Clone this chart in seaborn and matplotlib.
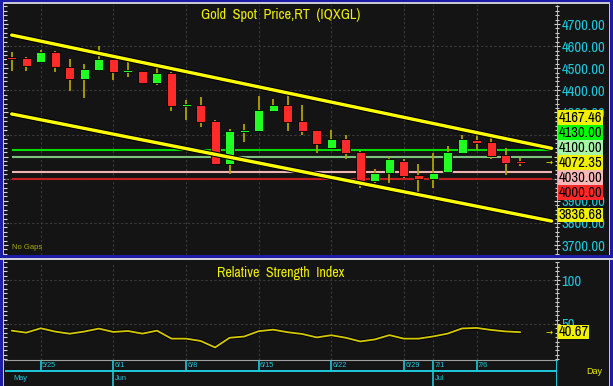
import os
import numpy as np
import pandas as pd
import matplotlib
matplotlib.use("Agg")
import matplotlib.pyplot as plt
import matplotlib.patheffects as pe
from matplotlib import font_manager
from matplotlib.font_manager import FontProperties
from matplotlib.patches import Rectangle
from matplotlib.ticker import MultipleLocator, FixedLocator, FormatStrFormatter
import seaborn as sns

# --- values (daily bars, weekdays only) ---
dates = pd.bdate_range("2026-05-21", "2026-07-09")
opens = [4548, 4547, 4528, 4572, 4507, 4452, 4492, 4543, 4484, 4487, 4432, 4477,
         4330, 4332, 4262, 4066, 4211, 4216, 4308, 4332, 4261, 4220, 4138, 4180,
         4122, 3990, 4024, 4080, 4017, 3999, 4030, 4118, 4176, 4167, 4106, 4080]
highs = [4575, 4549, 4582, 4579, 4543, 4519, 4600, 4545, 4537, 4488, 4507, 4483,
         4356, 4368, 4264, 4224, 4248, 4374, 4359, 4386, 4333, 4222, 4220, 4196,
         4124, 4045, 4100, 4088, 4066, 4118, 4148, 4196, 4205, 4183, 4138, 4092]
lows = [4489, 4489, 4526, 4481, 4398, 4364, 4489, 4447, 4462, 4427, 4424, 4308,
        4266, 4233, 4062, 4021, 4166, 4214, 4306, 4217, 4198, 4118, 4133, 4088,
        3957, 3981, 3982, 4002, 3941, 3957, 4028, 4116, 4130, 4088, 4017, 4057]
closes = [4544, 4510, 4572, 4504, 4452, 4498, 4543, 4483, 4490, 4432, 4477, 4329,
          4334, 4257, 4066, 4217, 4222, 4311, 4332, 4258, 4217, 4157, 4180, 4118,
          3990, 4027, 4089, 4012, 3999, 4027, 4122, 4178, 4162, 4103, 4072, 4072.35]
rsi = [42.4, 40.1, 45.1, 41.3, 38.9, 41.4, 44.7, 40.9, 42.0, 39.0, 42.4, 33.3,
       33.3, 30.7, 23.3, 34.3, 35.7, 41.8, 43.5, 40.6, 38.6, 34.7, 37.2, 34.3,
       30.1, 32.4, 37.3, 33.3, 33.3, 35.8, 39.0, 44.9, 45.5, 43.2, 41.5, 40.67]

level_values = [4130.00, 4100.00, 4030.00, 4000.00]
level_line_colors = ["#00dc00", "#7cc47c", "#f0b4b4", "#c41e1e"]
level_box_colors = ["#00ff00", "#a8f4a8", "#f8b8b8", "#ff2828"]

# trend channel: value at first bar, value at last bar
channel_upper = [4650.00, 4167.46]
channel_lower = [4293.00, 3836.68]

week_ticks = ["5/25", "6/1", "6/8", "6/15", "6/22", "6/29", "7/1", "7/6"]
month_ticks = ["May", "Jun", "Jul"]

df = pd.DataFrame({"date": dates, "open": opens, "high": highs,
                   "low": lows, "close": closes, "rsi": rsi})
df["idx"] = np.arange(len(df))
df["label"] = [f"{d.month}/{d.day}" for d in df["date"]]

BG = "#141414"
BLUE = "#1c1ca6"
CYAN = "#1ec8dc"
YELLOW = "#f0f000"
W, H = 613, 386

sns.set_theme(style="dark")
plt.rcParams["font.family"] = ["Liberation Sans", "DejaVu Sans"]

# a narrow face if one is installed, plain Liberation Sans otherwise
narrow_file = None
for path in sorted(font_manager.findSystemFonts()):
    base = os.path.basename(path).lower()
    if "narrow" in base and "bold" not in base and "italic" not in base:
        narrow_file = path
        break
fp = FontProperties(fname=narrow_file) if narrow_file else FontProperties(family="Liberation Sans")

fig = plt.figure(figsize=(W / 100, H / 100), dpi=100, facecolor=BG)
renderer = fig.canvas.get_renderer()


def fit_size(text, target_px, base=10):
    t = fig.text(0, 0, text, fontproperties=fp, fontsize=base)
    w = t.get_window_extent(renderer).width
    t.remove()
    return base * target_px / w


title_size = fit_size("Gold  Spot  Price,RT  (IQXGL)", 158)
rsi_title_size = fit_size("Relative  Strength  Index", 127)
value_size = fit_size("4700.00", 43)

ax = fig.add_axes([5 / W, 1 - 255 / H, 551.5 / W, 250 / H])
ax_rsi = fig.add_axes([5 / W, 1 - 360 / H, 551.5 / W, 98 / H], sharex=ax)
ax_date = fig.add_axes([5 / W, 0, 551.5 / W, 26 / H], sharex=ax)

x_end = 37.16
xlim = (-0.46, 37.5)

# --- price panel ---
ax.set_facecolor(BG)
ax.set_xlim(*xlim)
ax.set_ylim(3655, 4786)
for v in [4600, 4400, 4200, 4000, 3800]:
    ax.axhline(v, color="#3a3a3a", lw=0.8, ls=(0, (2, 2)), zorder=1)
week_idx = [int(df.loc[df["label"] == t, "idx"].iloc[0]) for t in week_ticks]
for xi in week_idx:
    ax.axvline(xi, color="#3a3a3a", lw=0.8, ls=(0, (2, 2)), zorder=1)
    ax_rsi.axvline(xi, color="#3a3a3a", lw=0.8, ls=(0, (2, 2)), zorder=1)

for v, c in zip(level_values, level_line_colors):
    ax.hlines(v, 0, x_end, color=c, lw=1.5, zorder=2)

body_lo = np.minimum(df["open"], df["close"])
body_h = (df["close"] - df["open"]).abs()
mid = body_lo + body_h / 2
body_h = np.maximum(body_h, 9)
body_lo = mid - body_h / 2
colors = np.where(df["close"] >= df["open"], "#22ff22", "#ff2a2a")
ax.vlines(df["idx"], df["low"], df["high"], color="#b0a400", lw=1.3, zorder=3)
ax.bar(df["idx"], body_h, bottom=body_lo, width=0.62, color=colors,
       edgecolor="#000000", linewidth=0.6, zorder=4)

n_last = len(df) - 1
for start, end in [channel_upper, channel_lower]:
    ys = [start, start + (end - start) * x_end / n_last]
    ax.plot([0, x_end], ys, color="#ffff00", lw=2.4, zorder=5,
            path_effects=[pe.Stroke(linewidth=4, foreground="black"), pe.Normal()])

ax.text(0.012, 0.015, "No Gaps", transform=ax.transAxes, color="#a8a800",
        fontsize=5.5, va="bottom", ha="left")
ax.text(0.5, 0.962, "Gold  Spot  Price,RT  (IQXGL)", transform=ax.transAxes,
        color=YELLOW, fontproperties=fp, fontsize=title_size, ha="center", va="center")

for a in (ax, ax_rsi):
    a.yaxis.tick_right()
    a.tick_params(axis="y", which="both", left=True, right=True, labelleft=False,
                  labelright=True, color="#d8d8d8", labelcolor=CYAN,
                  labelsize=value_size, pad=1.5, direction="inout")
    a.tick_params(axis="y", which="major", length=4, width=0.8)
    a.tick_params(axis="y", which="minor", length=2.5, width=0.8)
    a.tick_params(axis="x", which="both", bottom=False, labelbottom=False)
    for s in ["top", "left", "bottom"]:
        a.spines[s].set_visible(False)
    a.spines["right"].set_color("#b8b8b8")
    a.spines["right"].set_linewidth(0.7)
    a.grid(False)

ax.yaxis.set_major_locator(MultipleLocator(100))
ax.yaxis.set_minor_locator(MultipleLocator(20))
ax.yaxis.set_major_formatter(FormatStrFormatter("%.2f"))

# --- RSI panel ---
ax_rsi.set_facecolor(BG)
ax_rsi.set_ylim(9, 120.5)
for v in [100, 50]:
    ax_rsi.axhline(v, color="#3a3a3a", lw=0.8, ls=(0, (2, 2)), zorder=1)
sns.lineplot(data=df, x="idx", y="rsi", ax=ax_rsi, color="#d4c800", lw=1.3, zorder=4,
             path_effects=[pe.Stroke(linewidth=2.6, foreground="black"), pe.Normal()])
ax_rsi.set_xlabel("")
ax_rsi.set_ylabel("")
ax_rsi.yaxis.set_major_locator(FixedLocator([50, 100]))
ax_rsi.yaxis.set_minor_locator(MultipleLocator(5))
ax_rsi.yaxis.set_major_formatter(FormatStrFormatter("%d"))
ax_rsi.spines["bottom"].set_visible(True)
ax_rsi.spines["bottom"].set_color("#a0a0a0")
ax_rsi.spines["bottom"].set_linewidth(0.8)
ax_rsi.text(0.5, 0.885, "Relative  Strength  Index", transform=ax_rsi.transAxes,
            color=YELLOW, fontproperties=fp, fontsize=rsi_title_size,
            ha="center", va="center")

fig.canvas.draw()
for lab in ax.get_yticklabels() + ax_rsi.get_yticklabels():
    lab.set_fontproperties(fp)
    lab.set_fontsize(value_size)

# right-hand value boxes, stacked around the last price
last = df["close"].iloc[-1]
boxes = [(channel_upper[1], YELLOW), (level_values[0], level_box_colors[0]),
         (level_values[1], level_box_colors[1]), (last, YELLOW),
         (level_values[2], level_box_colors[2]), (level_values[3], level_box_colors[3]),
         (channel_lower[1], YELLOW)]
to_px = lambda v: ax.transData.transform((0, v))[1]
anchor = [b[0] for b in boxes].index(last)
pos = {anchor: to_px(last)}
step = 15
for k in range(anchor - 1, -1, -1):
    pos[k] = max(to_px(boxes[k][0]), pos[k + 1] + step)
for k in range(anchor + 1, len(boxes)):
    pos[k] = min(to_px(boxes[k][0]), pos[k - 1] - step)
box_texts = []
for k, (v, c) in enumerate(boxes):
    dy = (pos[k] - to_px(v)) * 72 / 100
    box_texts.append(ax.annotate(
        f"{v:.2f}", xy=(1, v), xycoords=("axes fraction", "data"),
        xytext=(1.6, dy), textcoords="offset points", ha="left", va="center",
        fontproperties=fp, fontsize=value_size, color="black",
        annotation_clip=False, zorder=10,
        bbox=dict(boxstyle="square,pad=0.02", fc=c, ec="none")))
ax.text(0.987, last, "\u2192", transform=ax.get_yaxis_transform(), color=YELLOW,
        fontsize=6, ha="center", va="center", family="DejaVu Sans")

rsi_last = df["rsi"].iloc[-1]
ax_rsi.annotate(f"{rsi_last:.2f}", xy=(1, rsi_last), xycoords=("axes fraction", "data"),
                xytext=(1.6, 0), textcoords="offset points", ha="left", va="center",
                fontproperties=fp, fontsize=value_size, color="black",
                annotation_clip=False, zorder=10,
                bbox=dict(boxstyle="square,pad=0.02", fc=YELLOW, ec="none"))
ax_rsi.text(0.987, rsi_last, "\u2192", transform=ax_rsi.get_yaxis_transform(),
            color=YELLOW, fontsize=6, ha="center", va="center", family="DejaVu Sans")

# tick labels lying wholly under the stacked boxes cannot be seen: drop them
fig.canvas.draw()
spans = sorted((t.get_bbox_patch().get_window_extent(renderer).y0,
                t.get_bbox_patch().get_window_extent(renderer).y1) for t in box_texts)
merged = [list(spans[0])]
for y0, y1 in spans[1:]:
    if y0 <= merged[-1][1] + 0.5:
        merged[-1][1] = max(merged[-1][1], y1)
    else:
        merged.append([y0, y1])
for lab in ax.get_yticklabels():
    e = lab.get_window_extent(renderer)
    mid_y = (e.y0 + e.y1) / 2
    if any(y0 <= mid_y - 4.5 and mid_y + 4.5 <= y1 for y0, y1 in merged):
        lab.set_visible(False)

# --- date strip ---
ax_date.set_facecolor(BG)
ax_date.set_ylim(0, 1)
ax_date.axis("off")
line_y = 15 / 26
ax_date.axhline(line_y, color=CYAN, lw=1.4)
ax_date.axvline(xlim[1], color=CYAN, lw=1.4)
for xi, t in zip(week_idx, week_ticks):
    ax_date.vlines(xi, line_y, 1, color=CYAN, lw=1.2)
    ax_date.text(xi + 0.1, 0.8, t, color=CYAN, fontsize=5.3, ha="left", va="center")
for m in month_ticks:
    xi = int(df.loc[df["date"].dt.strftime("%b") == m, "idx"].iloc[0])
    if xi > 0:
        ax_date.vlines(xi, 0, line_y, color=CYAN, lw=1.2)
    ax_date.text(xi + 0.1, 0.28, m, color=CYAN, fontsize=5.3, ha="left", va="center")
fig.text(594 / W, 1 - 372 / H, "Day", color=YELLOW, fontsize=6.5, ha="center", va="center")


# --- window frame ---
def px_rect(x0, y0, w, h, color):
    fig.add_artist(Rectangle((x0 / W, 1 - (y0 + h) / H), w / W, h / H,
                             transform=fig.transFigure, color=color, lw=0, zorder=20))


px_rect(0, 0, W, 2.5, BLUE)
px_rect(0, 2.5, W, 1.2, "#c8c8d0")
px_rect(0, 0, 2.5, H, BLUE)
px_rect(2.5, 2.5, 1.2, H, "#c8c8d0")
px_rect(610, 0, 3, H, BLUE)
px_rect(608.8, 2.5, 1.2, H, "#c8c8d0")
px_rect(0, 255, W, 3, BLUE)
px_rect(0, 258, W, 1.5, "#d0d0d8")

fig.savefig("out.png", dpi=100, facecolor=BG)
